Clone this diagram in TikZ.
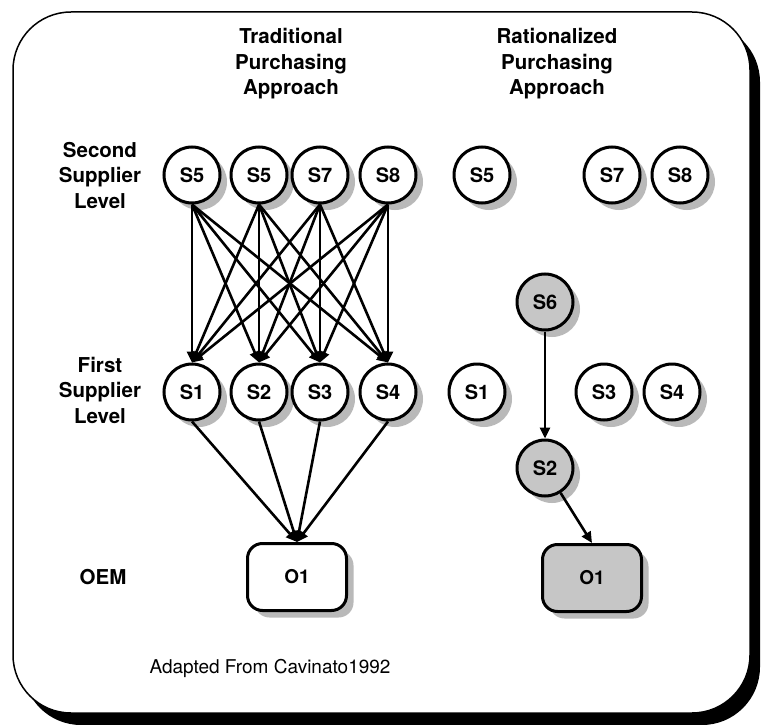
\documentclass[tikz,border=0pt]{standalone}
\usepackage{fontspec}
\setmainfont{TeX Gyre Heros}
\usetikzlibrary{shadows,arrows.meta}

\tikzset{
  supplier/.style={circle, draw, line width=3, fill=white, minimum size=56, inner sep=0pt,
    font=\fontsize{20}{21}\selectfont\bfseries,
    drop shadow={shadow xshift=7pt, shadow yshift=-7pt, fill=gray!55, opacity=1}},
  picked/.style={fill=gray!45},
  oem/.style={rectangle, rounded corners=15, draw, line width=3, fill=white,
    minimum width=99, minimum height=67, inner sep=0pt,
    font=\fontsize{19}{20}\selectfont\bfseries,
    drop shadow={shadow xshift=7pt, shadow yshift=-7pt, fill=gray!55, opacity=1}},
  lvl/.style={align=center, inner sep=0pt, font=\fontsize{20.5}{25.5}\selectfont\bfseries},
  link/.style={line width=2.6, -{Triangle[length=11,width=10]}},
}

\begin{document}
\begin{tikzpicture}[x=1pt,y=-1pt]
\useasboundingbox (0,0) rectangle (761,725);

%Shape: Frame
\draw [line width=1.5, fill=white, rounded corners=58,
  drop shadow={shadow xshift=10pt, shadow yshift=-12pt, fill=black, opacity=1}] (13,12) rectangle (750,713);

% Text Node
\node [lvl] (tradTitle) at (291,64) {Traditional\\Purchasing\\Approach};
\node [lvl] (ratTitle) at (557,64) {Rationalized\\Purchasing\\Approach};
\node [lvl] (secondLbl) at (100,175) {Second\\Supplier\\Level};
\node [lvl] (firstLbl) at (100,390) {First\\Supplier\\Level};
\node [lvl] (oemLbl) at (103,577) {OEM};
\node [inner sep=0pt, font=\fontsize{19}{20}\selectfont] (source) at (270,668) {Adapted From Cavinato1992};

%Second supplier level, traditional
\node [supplier] (tS5a) at (192,175) {S5};
\node [supplier] (tS5b) at (259,175) {S5};
\node [supplier] (tS7) at (320,175) {S7};
\node [supplier] (tS8) at (388,175) {S8};
%First supplier level, traditional
\node [supplier] (tS1) at (192,392) {S1};
\node [supplier] (tS2) at (259,392) {S2};
\node [supplier] (tS3) at (320,392) {S3};
\node [supplier] (tS4) at (388,392) {S4};
%OEM, traditional
\node [oem] (tO1) at (297,577) {O1};

%Rationalized side
\node [supplier] (rS5) at (482,175) {S5};
\node [supplier] (rS7) at (612,175) {S7};
\node [supplier] (rS8) at (680,175) {S8};
\node [supplier,picked] (rS6) at (545,302) {S6};
\node [supplier] (rS1) at (477,392) {S1};
\node [supplier] (rS3) at (604,392) {S3};
\node [supplier] (rS4) at (672,392) {S4};
\node [supplier,picked] (rS2) at (545,468) {S2};
\node [oem,picked] (rO1) at (592,578) {O1};

%Straight Lines: second level to first level
\draw [link] (tS5a.south) -- (tS1.north);
\draw [link] (tS5a.south) -- (tS2.north);
\draw [link] (tS5a.south) -- (tS3.north);
\draw [link] (tS5a.south) -- (tS4.north);
\draw [link] (tS5b.south) -- (tS1.north);
\draw [link] (tS5b.south) -- (tS2.north);
\draw [link] (tS5b.south) -- (tS3.north);
\draw [link] (tS5b.south) -- (tS4.north);
\draw [link] (tS7.south) -- (tS1.north);
\draw [link] (tS7.south) -- (tS2.north);
\draw [link] (tS7.south) -- (tS3.north);
\draw [link] (tS7.south) -- (tS4.north);
\draw [link] (tS8.south) -- (tS1.north);
\draw [link] (tS8.south) -- (tS2.north);
\draw [link] (tS8.south) -- (tS3.north);
\draw [link] (tS8.south) -- (tS4.north);
%Straight Lines: first level to OEM
\draw [link] (tS1.south) -- (tO1.north);
\draw [link] (tS2.south) -- (tO1.north);
\draw [link] (tS3.south) -- (tO1.north);
\draw [link] (tS4.south) -- (tO1.north);
%Straight Lines: rationalized chain
\draw [link] (rS6) -- (rS2);
\draw [link] (rS2) -- (rO1.north);
\end{tikzpicture}
\end{document}
